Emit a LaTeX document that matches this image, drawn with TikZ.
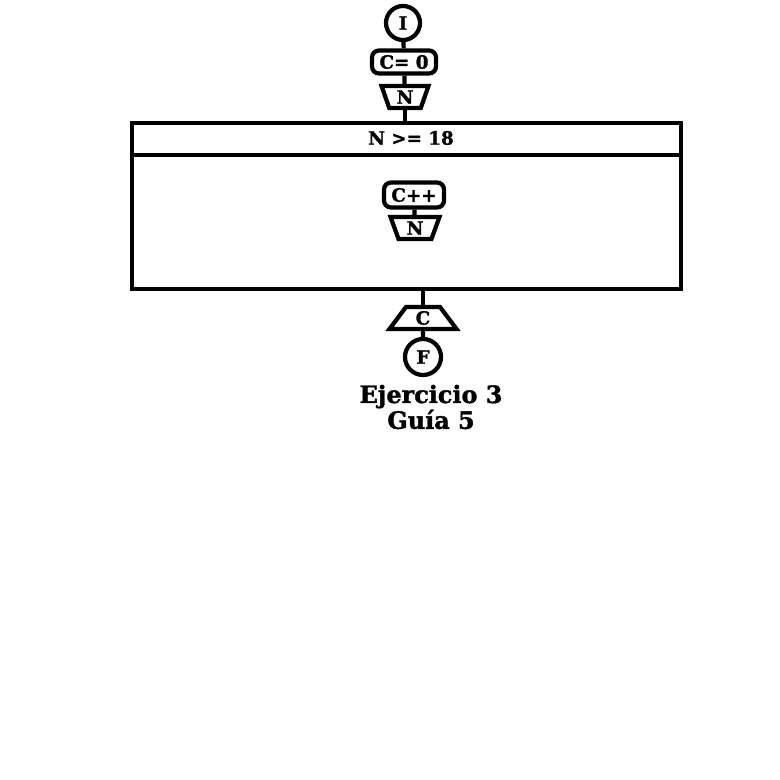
\documentclass[tikz,border=0pt]{standalone}
\usepackage{fontspec}
\setmainfont[BoldFeatures={FakeBold=1.5}]{DejaVu Serif}
\usetikzlibrary{shapes.geometric}

\begin{document}
\begin{tikzpicture}[x=0.025cm, y=-0.025cm, line width=3pt,
    font=\bfseries\fontsize{13}{15}\selectfont,
    proc/.style={draw, rounded corners=5pt, inner sep=0pt},
    entrada/.style={draw, trapezium, trapezium stretches=true, trapezium angle=73,
      shape border rotate=180, inner sep=0pt, minimum height=0.55cm},
    salida/.style={draw, trapezium, trapezium stretches=true, trapezium angle=63,
      inner sep=0pt, minimum height=0.55cm}]
        \useasboundingbox (0,0) rectangle (780,780);
        \def \bw {13.725cm}
        \def \bh {4.15cm}

        % inicio
        \node[draw, circle, minimum size=0.85cm, inner sep=0pt] at (403,23) (ini) {I};
        \node[proc, minimum width=1.6cm, minimum height=0.575cm] at (404,62) (c0) {C= 0};
        \node[entrada, minimum width=1.175cm] at (405,97) (n1) {N};

        % ciclo
        \node[draw, minimum width=\bw, minimum height=\bh, inner sep=0pt] at (406.5,206) (ciclo) {};
        \draw (ciclo.west |- 0,155) -- (ciclo.east |- 0,155);
        \node at (411,138) (cond) {N >= 18};
        \node[proc, minimum width=1.5cm, minimum height=0.625cm] at (414,195) (cmas) {C++};
        \node[entrada, minimum width=1.225cm] at (415,228) (n2) {N};

        % fin
        \node[salida, minimum width=1.675cm] at (423,318) (sal) {C};
        \node[draw, circle, minimum size=0.9cm, inner sep=0pt] at (423,357) (fin) {F};
        \node[align=center, font=\bfseries\fontsize{17}{16.4}\selectfont] at (431,407) (titulo) {Ejercicio 3\\Guía 5};

        \draw (ini)--(c0);
        \draw (c0)--(n1);
        \draw (n1.south)--(n1.south |- ciclo.north);
        \draw (cmas)--(n2);
        \draw (sal.north |- ciclo.south)--(sal.north);
        \draw (sal)--(fin);
\end{tikzpicture}
\end{document}
